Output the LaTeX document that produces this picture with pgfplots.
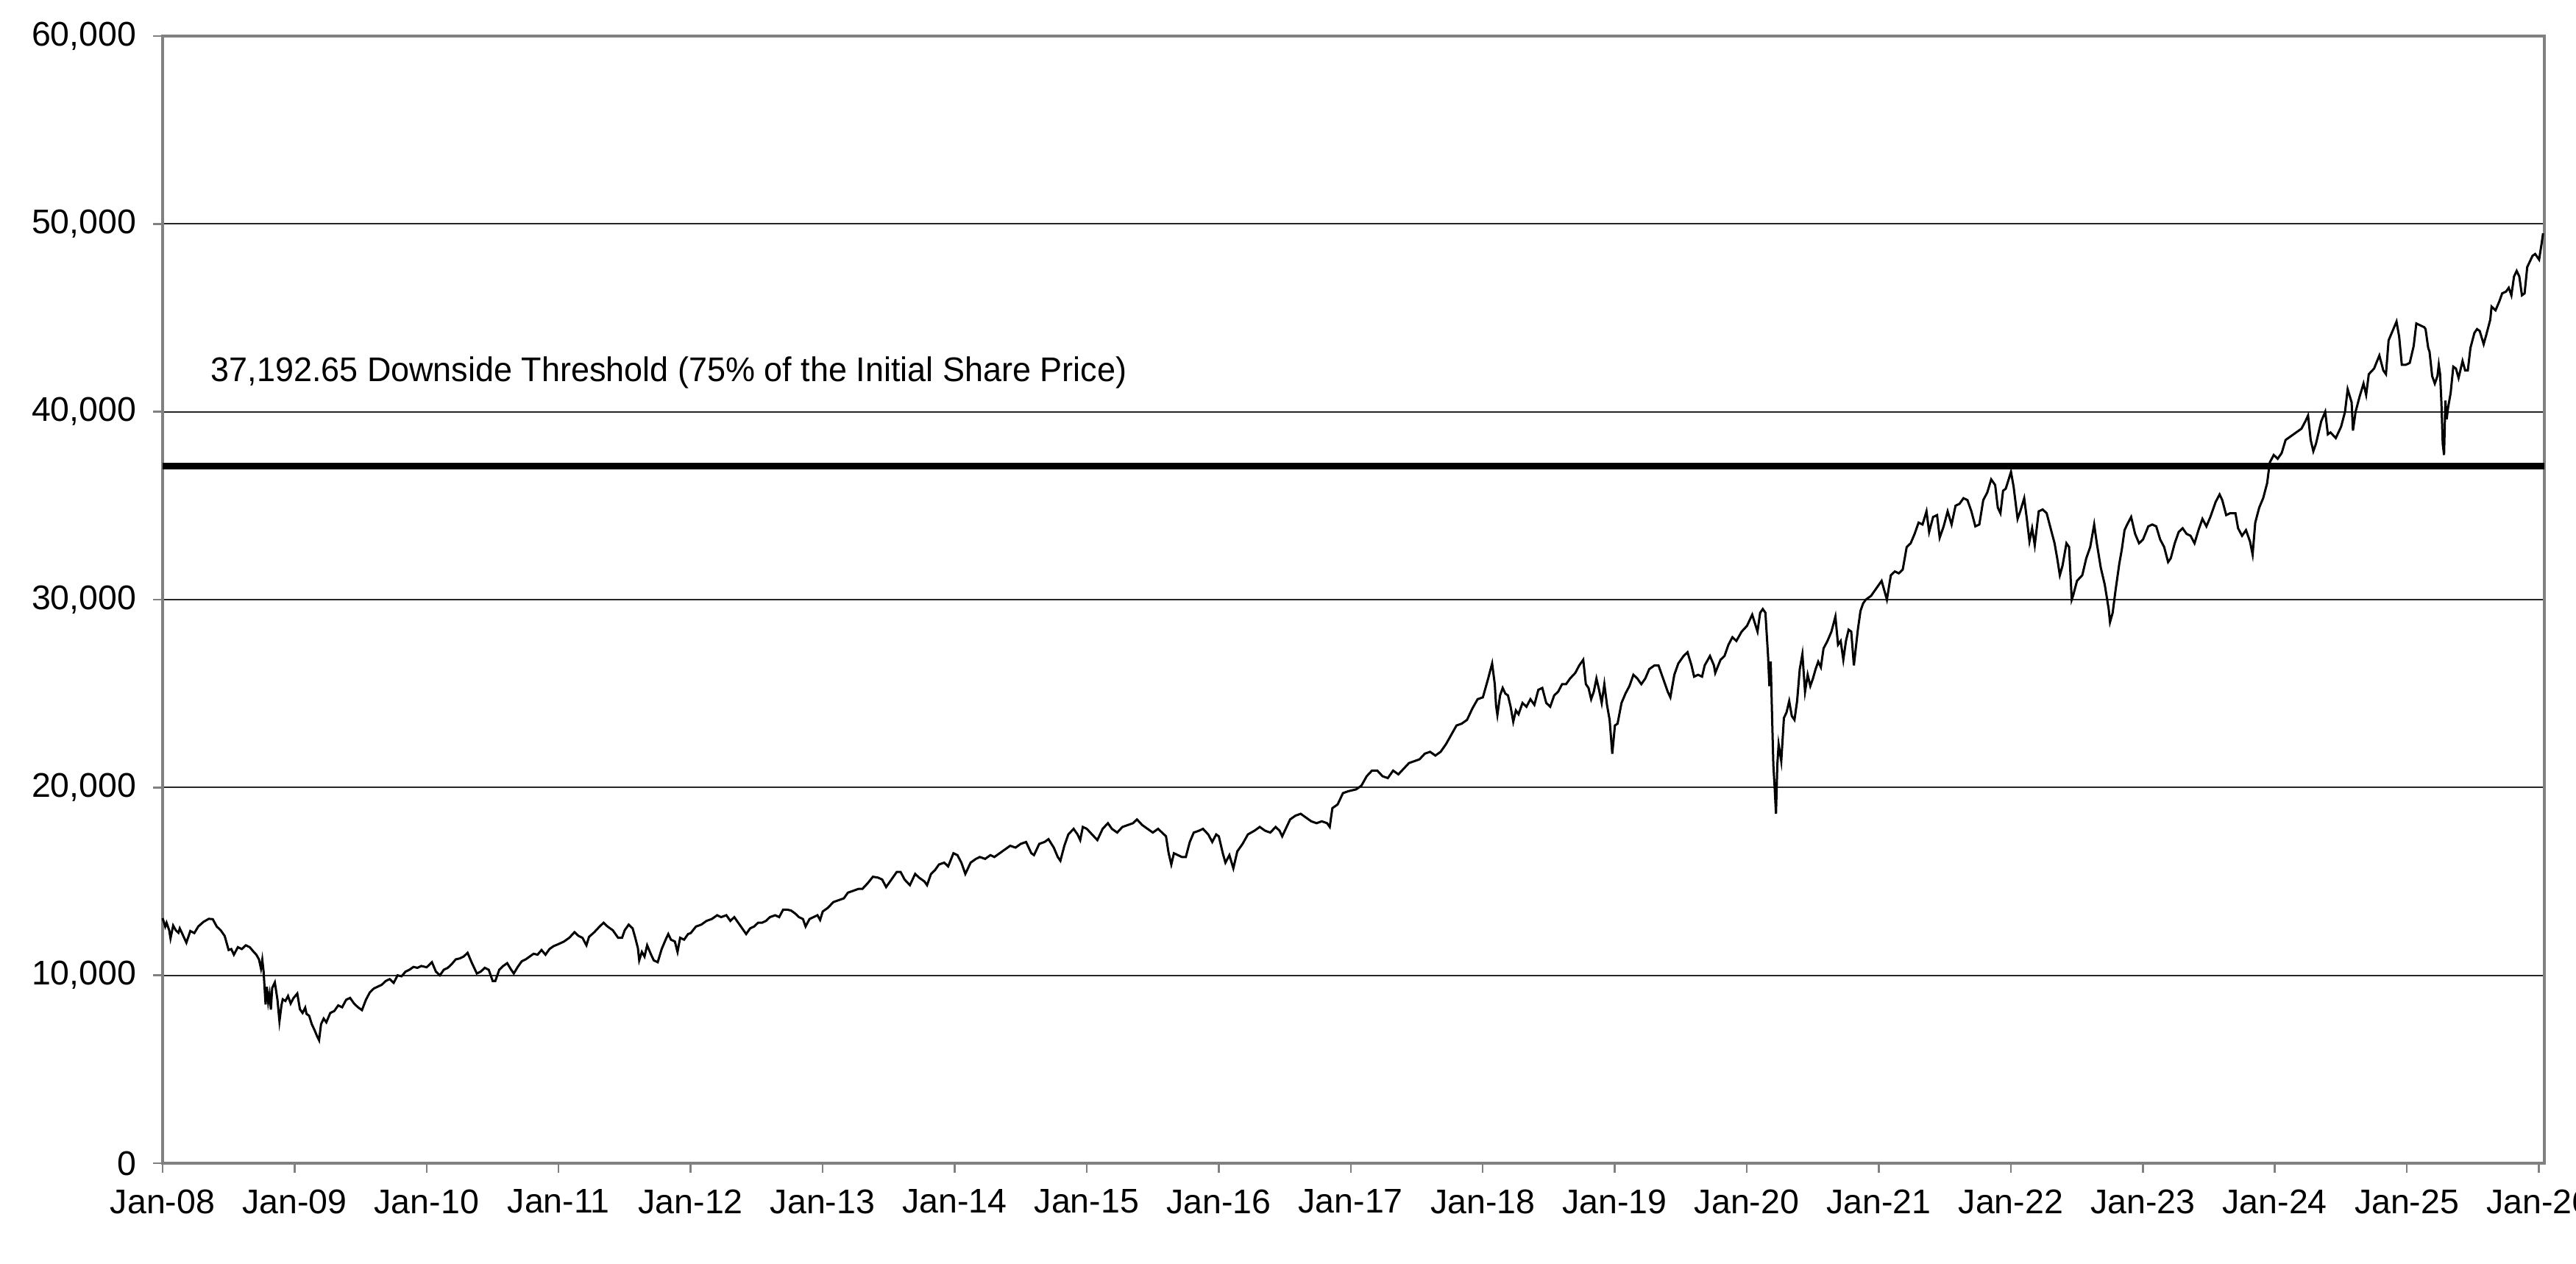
\documentclass[border=0pt]{standalone}
\usepackage{pgfplots}
\pgfplotsset{compat=1.18}
\usepackage{graphicx}
\usepackage{fontspec}
\setmainfont{Liberation Sans}
\definecolor{axgray}{RGB}{128,128,128}
\begin{document}
\begin{tikzpicture}
\useasboundingbox (0,0) rectangle (700.2pt,343.4pt);
\begin{axis}[
  at={(44.2pt,27.2pt)}, anchor=south west,
  scale only axis, width=647.4pt, height=306.4pt,
  xmin=2008, xmax=2026.04, ymin=0, ymax=60000,
  scaled y ticks=false, scaled x ticks=false,
  xtick={2008,2009,...,2026},
  xticklabels={Jan-08,Jan-09,Jan-10,Jan-11,Jan-12,Jan-13,Jan-14,Jan-15,Jan-16,Jan-17,Jan-18,Jan-19,Jan-20,Jan-21,Jan-22,Jan-23,Jan-24,Jan-25,Jan-26},
  ytick={0,10000,...,60000},
  yticklabels={0,{10,000},{20,000},{30,000},{40,000},{50,000},{60,000}},
  tick align=outside, major tick length=2.6pt,
  tick style={axgray, line width=0.5pt},
  axis line style={axgray, line width=0.8pt},
  ymajorgrids, major grid style={black!85, line width=0.35pt},
  ticklabel style={font=\fontsize{9.3}{11}\selectfont},
  xticklabel style={yshift=-1pt},
  yticklabel style={xshift=-1pt},
  xtick pos=bottom, ytick pos=left,
  clip=false,
]
\addplot[black, line width=1.8pt] coordinates {(2008,37100) (2026.04,37100)};
\addplot[black, line width=0.6pt] coordinates {
(2008.00,13044)(2008.02,12600)(2008.03,12800)(2008.05,12400)(2008.06,11971)(2008.08,12650)(2008.10,12400)(2008.12,12266)(2008.13,12500)(2008.15,12200)(2008.18,11740)(2008.21,12361)(2008.24,12250)(2008.27,12600)(2008.31,12850)(2008.35,13010)(2008.38,12990)(2008.41,12600)(2008.44,12400)(2008.47,12100)(2008.50,11350)(2008.52,11400)(2008.54,11100)(2008.57,11500)(2008.60,11400)(2008.63,11600)(2008.66,11500)(2008.69,11250)(2008.71,11100)(2008.73,10850)(2008.745,10365)(2008.755,10831)(2008.765,10200)(2008.78,8451)(2008.79,9387)(2008.80,8578)(2008.81,9000)(2008.82,8175)(2008.83,9325)(2008.85,9625)(2008.87,8700)(2008.885,7552)(2008.90,8400)(2008.91,8726)(2008.93,8635)(2008.95,8900)(2008.97,8500)(2008.99,8776)(2009.02,9034)(2009.04,8200)(2009.06,8000)(2009.08,8280)(2009.09,7950)(2009.11,7850)(2009.13,7400)(2009.15,7100)(2009.17,6763)(2009.185,6547)(2009.20,7400)(2009.22,7700)(2009.24,7500)(2009.27,8000)(2009.30,8100)(2009.33,8400)(2009.36,8300)(2009.39,8700)(2009.42,8800)(2009.45,8500)(2009.48,8300)(2009.51,8150)(2009.54,8700)(2009.57,9100)(2009.60,9300)(2009.63,9400)(2009.66,9500)(2009.69,9700)(2009.72,9800)(2009.75,9600)(2009.78,10000)(2009.81,9950)(2009.84,10200)(2009.87,10300)(2009.90,10450)(2009.93,10400)(2009.96,10500)
(2010.00,10430)(2010.04,10700)(2010.07,10200)(2010.10,10000)(2010.13,10300)(2010.16,10400)(2010.19,10600)(2010.22,10850)(2010.25,10900)(2010.28,11000)(2010.31,11200)(2010.34,10700)(2010.36,10400)(2010.38,10100)(2010.41,10200)(2010.44,10400)(2010.47,10300)(2010.50,9700)(2010.52,9700)(2010.55,10300)(2010.58,10500)(2010.61,10650)(2010.64,10300)(2010.66,10100)(2010.69,10450)(2010.72,10750)(2010.75,10850)(2010.78,11000)(2010.81,11150)(2010.84,11100)(2010.87,11350)(2010.90,11100)(2010.93,11400)(2010.96,11550)
(2011.00,11670)(2011.04,11800)(2011.08,12000)(2011.12,12300)(2011.15,12100)(2011.18,12000)(2011.21,11600)(2011.23,12050)(2011.27,12300)(2011.31,12600)(2011.34,12800)(2011.37,12600)(2011.41,12400)(2011.45,12000)(2011.48,12000)(2011.50,12400)(2011.53,12700)(2011.56,12500)(2011.58,12000)(2011.60,11450)(2011.61,10800)(2011.63,11250)(2011.65,11000)(2011.67,11600)(2011.70,11100)(2011.72,10800)(2011.75,10700)(2011.78,11400)(2011.81,11900)(2011.83,12200)(2011.85,11900)(2011.88,11800)(2011.90,11250)(2011.92,12000)(2011.95,11900)(2011.98,12200)
(2012.00,12250)(2012.04,12600)(2012.08,12700)(2012.12,12900)(2012.16,13000)(2012.20,13200)(2012.23,13100)(2012.27,13200)(2012.30,12900)(2012.33,13100)(2012.36,12800)(2012.39,12500)(2012.42,12200)(2012.45,12500)(2012.48,12600)(2012.51,12800)(2012.54,12800)(2012.57,12900)(2012.60,13100)(2012.64,13200)(2012.67,13100)(2012.70,13500)(2012.73,13500)(2012.76,13450)(2012.79,13300)(2012.82,13100)(2012.85,13000)(2012.87,12600)(2012.90,13000)(2012.93,13100)(2012.96,13200)(2012.98,12950)
(2013.00,13400)(2013.04,13600)(2013.08,13900)(2013.12,14000)(2013.16,14100)(2013.19,14400)(2013.23,14500)(2013.27,14600)(2013.30,14600)(2013.34,14900)(2013.38,15250)(2013.42,15200)(2013.45,15100)(2013.48,14700)(2013.52,15100)(2013.56,15500)(2013.59,15500)(2013.62,15100)(2013.66,14800)(2013.70,15400)(2013.73,15200)(2013.77,15000)(2013.79,14800)(2013.82,15400)(2013.85,15600)(2013.88,15900)(2013.92,16000)(2013.95,15800)(2013.99,16500)
(2014.02,16400)(2014.05,16000)(2014.08,15400)(2014.12,16000)(2014.16,16200)(2014.19,16300)(2014.23,16200)(2014.27,16400)(2014.30,16300)(2014.34,16500)(2014.38,16700)(2014.42,16900)(2014.46,16800)(2014.50,17000)(2014.54,17100)(2014.58,16500)(2014.60,16400)(2014.64,17000)(2014.68,17100)(2014.71,17250)(2014.75,16800)(2014.78,16300)(2014.80,16100)(2014.83,16900)(2014.86,17500)(2014.90,17800)(2014.93,17500)(2014.95,17200)(2014.97,17900)
(2015.00,17800)(2015.04,17500)(2015.08,17200)(2015.12,17800)(2015.16,18100)(2015.19,17800)(2015.23,17600)(2015.27,17900)(2015.31,18000)(2015.35,18100)(2015.38,18300)(2015.42,18000)(2015.46,17800)(2015.50,17600)(2015.54,17800)(2015.57,17600)(2015.60,17400)(2015.62,16500)(2015.64,15900)(2015.66,16500)(2015.69,16400)(2015.72,16300)(2015.75,16300)(2015.78,17100)(2015.81,17600)(2015.85,17700)(2015.88,17800)(2015.92,17500)(2015.95,17100)(2015.98,17500)
(2016.00,17400)(2016.03,16500)(2016.05,16000)(2016.08,16400)(2016.11,15700)(2016.14,16600)(2016.18,17000)(2016.22,17500)(2016.27,17700)(2016.31,17900)(2016.35,17700)(2016.39,17600)(2016.43,17900)(2016.46,17700)(2016.48,17400)(2016.50,17700)(2016.54,18300)(2016.58,18500)(2016.62,18600)(2016.66,18400)(2016.70,18200)(2016.74,18100)(2016.78,18200)(2016.82,18100)(2016.84,17900)(2016.86,18900)(2016.90,19100)(2016.94,19700)(2016.98,19800)
(2017.04,19900)(2017.08,20100)(2017.12,20600)(2017.16,20900)(2017.20,20900)(2017.24,20600)(2017.28,20500)(2017.32,20900)(2017.36,20700)(2017.40,21000)(2017.44,21300)(2017.48,21400)(2017.52,21500)(2017.56,21800)(2017.60,21900)(2017.64,21700)(2017.68,21900)(2017.72,22300)(2017.76,22800)(2017.80,23300)(2017.84,23400)(2017.88,23600)(2017.92,24200)(2017.96,24700)
(2018.00,24800)(2018.04,25800)(2018.07,26600)(2018.09,25500)(2018.10,24350)(2018.11,23860)(2018.13,24900)(2018.15,25300)(2018.17,25000)(2018.19,24900)(2018.21,24300)(2018.23,23500)(2018.25,24100)(2018.27,23900)(2018.30,24500)(2018.33,24300)(2018.36,24700)(2018.39,24400)(2018.42,25200)(2018.45,25300)(2018.48,24500)(2018.51,24300)(2018.54,24900)(2018.57,25100)(2018.60,25500)(2018.63,25500)(2018.66,25800)(2018.70,26100)(2018.73,26500)(2018.76,26800)(2018.78,25500)(2018.80,25300)(2018.82,24700)(2018.84,25100)(2018.86,25800)(2018.88,25200)(2018.90,24500)(2018.92,25500)(2018.94,24400)(2018.96,23600)(2018.98,21800)
(2019.00,23300)(2019.02,23400)(2019.05,24500)(2019.08,25000)(2019.11,25400)(2019.14,26000)(2019.17,25800)(2019.20,25500)(2019.23,25800)(2019.26,26300)(2019.30,26500)(2019.33,26500)(2019.36,25900)(2019.40,25100)(2019.42,24800)(2019.45,26000)(2019.48,26600)(2019.52,27000)(2019.55,27200)(2019.58,26500)(2019.60,25900)(2019.63,26000)(2019.66,25900)(2019.68,26500)(2019.72,27000)(2019.75,26500)(2019.76,26100)(2019.80,26800)(2019.83,27000)(2019.86,27600)(2019.89,28000)(2019.92,27800)(2019.96,28300)
(2020.00,28600)(2020.04,29200)(2020.08,28300)(2020.10,29300)(2020.12,29500)(2020.14,29300)(2020.16,27000)(2020.17,25400)(2020.18,26700)(2020.19,23900)(2020.20,21200)(2020.21,20000)(2020.22,18600)(2020.23,21200)(2020.24,22300)(2020.26,21400)(2020.28,23700)(2020.30,24000)(2020.32,24600)(2020.34,23800)(2020.36,23600)(2020.38,24600)(2020.40,26300)(2020.42,27100)(2020.44,25100)(2020.46,26000)(2020.48,25400)(2020.50,25800)(2020.52,26300)(2020.54,26700)(2020.56,26400)(2020.58,27400)(2020.61,27800)(2020.64,28300)(2020.67,29100)(2020.69,27600)(2020.71,27800)(2020.73,26800)(2020.75,27800)(2020.77,28400)(2020.79,28300)(2020.81,26500)(2020.84,28400)(2020.86,29400)(2020.88,29800)(2020.90,30000)(2020.94,30200)(2020.98,30600)
(2021.02,31000)(2021.06,30000)(2021.09,31300)(2021.12,31500)(2021.15,31400)(2021.18,31600)(2021.21,32800)(2021.24,33000)(2021.27,33500)(2021.30,34100)(2021.33,34000)(2021.36,34700)(2021.38,33600)(2021.41,34400)(2021.44,34500)(2021.46,33300)(2021.49,33900)(2021.52,34700)(2021.55,34000)(2021.58,35000)(2021.61,35100)(2021.64,35400)(2021.67,35300)(2021.70,34700)(2021.73,33900)(2021.76,34000)(2021.79,35300)(2021.82,35700)(2021.85,36400)(2021.88,36100)(2021.90,34900)(2021.92,34600)(2021.94,35800)(2021.96,35900)
(2022.00,36800)(2022.02,36000)(2022.05,34300)(2022.07,34700)(2022.10,35400)(2022.12,34300)(2022.14,33100)(2022.16,33800)(2022.18,32900)(2022.21,34700)(2022.24,34800)(2022.27,34600)(2022.30,33800)(2022.33,33000)(2022.35,32200)(2022.37,31300)(2022.39,31800)(2022.42,33000)(2022.44,32800)(2022.46,30000)(2022.47,30200)(2022.50,31000)(2022.54,31300)(2022.57,32200)(2022.60,32800)(2022.63,34000)(2022.65,33000)(2022.68,31700)(2022.71,30800)(2022.74,29500)(2022.75,28800)(2022.77,29300)(2022.79,30400)(2022.82,31900)(2022.84,32700)(2022.86,33700)(2022.88,34000)(2022.91,34400)(2022.94,33500)(2022.97,33000)
(2023.00,33200)(2023.04,33900)(2023.07,34000)(2023.10,33900)(2023.13,33200)(2023.16,32800)(2023.19,32000)(2023.21,32200)(2023.24,33000)(2023.27,33600)(2023.30,33800)(2023.33,33500)(2023.36,33400)(2023.39,33000)(2023.42,33700)(2023.45,34300)(2023.48,33900)(2023.51,34400)(2023.55,35200)(2023.58,35600)(2023.60,35300)(2023.63,34500)(2023.66,34600)(2023.70,34600)(2023.72,33800)(2023.75,33400)(2023.78,33700)(2023.81,33100)(2023.83,32400)(2023.85,34100)(2023.88,34900)(2023.91,35400)(2023.94,36200)(2023.96,37300)(2023.99,37700)
(2024.02,37500)(2024.05,37800)(2024.08,38500)(2024.12,38700)(2024.16,38900)(2024.20,39100)(2024.23,39500)(2024.25,39800)(2024.27,38500)(2024.29,37900)(2024.31,38300)(2024.35,39500)(2024.38,40000)(2024.40,38800)(2024.42,38900)(2024.46,38600)(2024.50,39200)(2024.53,40000)(2024.55,41200)(2024.58,40500)(2024.59,39000)(2024.61,40000)(2024.64,40800)(2024.67,41500)(2024.69,40900)(2024.71,42000)(2024.75,42300)(2024.79,43000)(2024.82,42200)(2024.84,42000)(2024.86,43800)(2024.89,44300)(2024.92,44800)(2024.94,44000)(2024.96,42500)(2024.99,42500)
(2025.02,42600)(2025.05,43500)(2025.07,44700)(2025.10,44600)(2025.13,44500)(2025.14,44400)(2025.16,43400)(2025.17,43200)(2025.19,41900)(2025.21,41500)(2025.23,41900)(2025.24,42500)(2025.25,42000)(2025.26,40500)(2025.27,38300)(2025.28,37700)(2025.29,40600)(2025.30,39600)(2025.31,40200)(2025.33,41000)(2025.35,42400)(2025.37,42300)(2025.39,41800)(2025.42,42700)(2025.44,42200)(2025.46,42200)(2025.48,43400)(2025.51,44200)(2025.53,44400)(2025.55,44300)(2025.58,43600)(2025.60,44100)(2025.63,44900)(2025.64,45600)(2025.67,45400)(2025.70,45900)(2025.72,46300)(2025.75,46400)(2025.77,46600)(2025.79,46200)(2025.81,47200)(2025.83,47500)(2025.85,47200)(2025.87,46200)(2025.89,46300)(2025.91,47700)(2025.93,48000)(2025.95,48300)(2025.97,48400)(2026.00,48100)(2026.02,49000)(2026.03,49500)
};
\node[anchor=west, font=\fontsize{9.3}{11}\selectfont, inner sep=0pt] at (axis cs:2008.36,42070) {\scalebox{0.967}[1]{37,192.65 Downside Threshold (75\% of the Initial Share Price)}};
\end{axis}
\end{tikzpicture}
\end{document}
